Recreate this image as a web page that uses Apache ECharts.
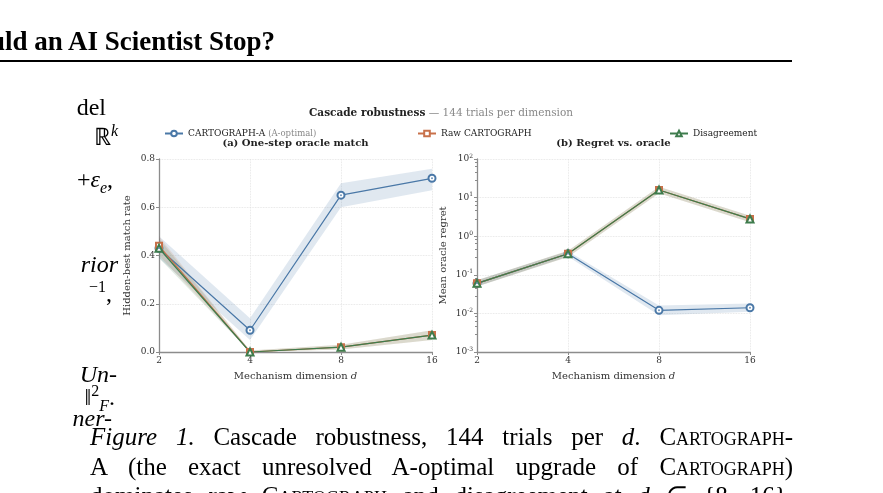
<!DOCTYPE html>
<html>
<head>
<meta charset="utf-8">
<script src="https://cdn.jsdelivr.net/npm/echarts@6/dist/echarts.min.js"></script>
<style>
  html, body { margin: 0; padding: 0; background: #fff; }
  body { width: 883px; height: 493px; position: relative; overflow: hidden; }
  #main { position: absolute; left: 0; top: 0; width: 883px; height: 493px; }
  .paper { position: absolute; font-family: "Liberation Serif", "Times New Roman", serif; color: #000; white-space: nowrap; line-height: 24px; }
  .sc { font-variant: small-caps; }
  .head { font-size: 27px; font-weight: bold; }
  .rule { position: absolute; left: 0; top: 60px; width: 792px; height: 2px; background: #000; }
  .side { font-size: 24px; text-align: right; }
  .cap { font-size: 25px; left: 90px; width: 703px; text-align: justify; text-align-last: justify; }
  sup, sub { font-size: 16px; line-height: 0; }
</style>
</head>
<body>
<div id="main"></div>

<div class="paper head" style="right: 608px; top: 29px;">When Should an AI Scientist Stop?</div>
<div class="rule"></div>

<div class="paper side" style="right: 777px; top: 95px;">del</div>
<div class="paper side" style="right: 765px; top: 125px;">&#x211D;<sup><i>k</i></sup></div>
<div class="paper side" style="right: 770px; top: 167px;">+<i>&epsilon;</i><sub><i>e</i></sub>,</div>
<div class="paper side" style="right: 765px; top: 252px;"><i>rior</i></div>
<div class="paper side" style="right: 771px; top: 281px;"><sup>&minus;1</sup>,</div>
<div class="paper side" style="right: 766px; top: 362px;"><i>Un-</i></div>
<div class="paper side" style="right: 768px; top: 385px;">&#x2016;<sup>2</sup><sub><i>F</i></sub>.</div>
<div class="paper side" style="right: 771px; top: 406px;"><i>ner-</i></div>

<div class="paper cap" style="top: 425px;"><i>Figure 1.</i> Cascade robustness, 144 trials per <i>d</i>. <span class="sc">Cartograph</span>-</div>
<div class="paper cap" style="top: 455px;">A (the exact unresolved A-optimal upgrade of <span class="sc">Cartograph</span>)</div>
<div class="paper cap" style="top: 484px;">dominates raw <span class="sc">Cartograph</span> and disagreement at <i>d</i> &isin; {8, 16}.</div>

<script>
  // Categories
  var dims = ['2', '4', '8', '16'];
  var methodNames = ['CARTOGRAPH-A', 'Raw CARTOGRAPH', 'Disagreement'];

  // (a) one-step oracle match
  var matchA = [0.43, 0.09, 0.65, 0.72];
  var matchALo = [0.39, 0.05, 0.60, 0.67];
  var matchAHi = [0.48, 0.14, 0.70, 0.76];
  var matchRaw = [0.44, 0.0, 0.02, 0.07];
  var matchRawLo = [0.40, 0.0, 0.01, 0.05];
  var matchRawHi = [0.48, 0.006, 0.03, 0.09];
  var matchDis = [0.43, 0.0, 0.02, 0.07];
  var matchDisLo = [0.39, 0.0, 0.01, 0.05];
  var matchDisHi = [0.47, 0.006, 0.03, 0.09];

  // (b) regret vs. oracle
  var regretA = [0.06, 0.35, 0.012, 0.014];
  var regretALo = [0.05, 0.30, 0.009, 0.011];
  var regretAHi = [0.072, 0.41, 0.016, 0.018];
  var regretRaw = [0.06, 0.35, 15.7, 2.8];
  var regretRawLo = [0.05, 0.29, 13.0, 2.3];
  var regretRawHi = [0.072, 0.42, 19.0, 3.4];
  var regretDis = [0.06, 0.35, 15.7, 2.8];
  var regretDisLo = [0.05, 0.29, 13.0, 2.3];
  var regretDisHi = [0.072, 0.42, 19.0, 3.4];

  var matchTicks = [0, 0.2, 0.4, 0.6, 0.8];

  var FONT = 'DejaVu Serif';
  var BLUE = '#4a78a7';
  var ORANGE = '#c8714a';
  var GREEN = '#3e7c4d';
  var AXIS = '#8c8c8c';

  var myChart = echarts.init(document.getElementById('main'));

  /**
   * @name band
   * @desc shaded range between lo and hi drawn as one polygon
   */
  function band(name, idx, lo, hi, color) {
    return {
      type: 'custom',
      name: name,
      xAxisIndex: idx,
      yAxisIndex: idx,
      silent: true,
      z: 1,
      data: lo.map(function (v, i) { return [i, v, hi[i]]; }),
      encode: { x: 0, y: [1, 2] },
      renderItem: function (params, api) {
        if (params.dataIndex !== 0) return;
        var pts = [], i;
        for (i = 0; i < hi.length; i++) pts.push(api.coord([i, hi[i]]));
        for (i = lo.length - 1; i >= 0; i--) pts.push(api.coord([i, lo[i]]));
        return { type: 'polygon', shape: { points: pts }, style: { fill: color } };
      }
    };
  }

  function line(name, idx, data, symbol, size, color) {
    return {
      type: 'line',
      name: name,
      xAxisIndex: idx,
      yAxisIndex: idx,
      data: data,
      symbol: symbol,
      symbolSize: size,
      z: 3,
      lineStyle: { width: 1.2, color: color },
      itemStyle: { color: color, borderColor: color, borderWidth: 1 }
    };
  }

  function dot(idx, data, color) {
    return {
      type: 'scatter',
      name: 'dot',
      xAxisIndex: idx,
      yAxisIndex: idx,
      data: data,
      symbolSize: 2,
      silent: true,
      z: 4,
      itemStyle: { color: color }
    };
  }

  function xAxis(idx) {
    return {
      type: 'category',
      gridIndex: idx,
      data: dims,
      boundaryGap: false,
      axisLine: { lineStyle: { color: AXIS, width: 1.3 } },
      axisTick: { show: true, length: 3, lineStyle: { color: AXIS } },
      axisLabel: { margin: 4, fontFamily: FONT, fontSize: 9, color: '#333' },
      splitLine: { show: true, lineStyle: { type: 'dotted', color: '#e0e0e0', width: 0.8 } },
      name: 'Mechanism dimension {i|d}',
      nameLocation: 'middle',
      nameGap: 19,
      nameTextStyle: {
        fontFamily: FONT, fontSize: 10, color: '#333',
        rich: { i: { fontFamily: FONT, fontSize: 10, color: '#333', fontStyle: 'italic' } }
      }
    };
  }

  var yCommon = {
    axisLine: { show: true, lineStyle: { color: AXIS, width: 1.3 } },
    axisTick: { show: true, length: 3, lineStyle: { color: AXIS } },
    splitLine: { show: true, lineStyle: { type: 'dotted', color: '#e0e0e0', width: 0.8 } },
    nameLocation: 'middle',
    nameTextStyle: { fontFamily: FONT, fontSize: 10, color: '#333' }
  };

  var legendText = {
    fontFamily: FONT, fontSize: 9, color: '#222',
    rich: {
      n: { fontFamily: FONT, fontSize: 9, color: '#222' },
      g: { fontFamily: FONT, fontSize: 8.5, color: '#888' }
    }
  };

  function legend(name, left, fmt) {
    return {
      data: [name],
      left: left,
      top: 124,
      itemWidth: 18,
      itemHeight: 7,
      itemGap: 0,
      formatter: fmt,
      textStyle: legendText
    };
  }

  var option = {
    animation: false,
    backgroundColor: 'transparent',
    grid: [
      { left: 159, top: 159, width: 273, height: 193 },
      { left: 477, top: 159, width: 273, height: 193 }
    ],
    legend: [
      legend(methodNames[0], 159, function () { return '{n|CARTOGRAPH-A} {g|(A-optimal)}'; }),
      legend(methodNames[1], 412, '{name}'),
      legend(methodNames[2], 664, '{name}')
    ],
    graphic: [
      {
        type: 'text', x: 441, y: 113,
        style: {
          text: '{b|Cascade robustness} {g|— 144 trials per dimension}',
          align: 'center', verticalAlign: 'middle',
          rich: {
            b: { fontFamily: FONT, fontSize: 10.5, fontWeight: 'bold', fill: '#222' },
            g: { fontFamily: FONT, fontSize: 10.5, fill: '#888' }
          }
        }
      },
      {
        type: 'text', x: 295.5, y: 143,
        style: { text: '(a) One-step oracle match', align: 'center', verticalAlign: 'middle',
          font: 'bold 10px "DejaVu Serif"', fill: '#222' }
      },
      {
        type: 'text', x: 613.5, y: 143,
        style: { text: '(b) Regret vs. oracle', align: 'center', verticalAlign: 'middle',
          font: 'bold 10px "DejaVu Serif"', fill: '#222' }
      }
    ],
    xAxis: [xAxis(0), xAxis(1)],
    yAxis: [
      Object.assign({}, yCommon, {
        type: 'value',
        gridIndex: 0,
        min: matchTicks[0],
        max: matchTicks[matchTicks.length - 1],
        interval: 0.2,
        name: 'Hidden-best match rate',
        nameGap: 27,
        axisLabel: { margin: 4, fontFamily: FONT, fontSize: 9, color: '#333',
          formatter: function (v) { return v.toFixed(1); } }
      }),
      Object.assign({}, yCommon, {
        type: 'log',
        logBase: 10,
        gridIndex: 1,
        min: 0.001,
        max: 100,
        name: 'Mean oracle regret',
        nameGap: 29,
        minorTick: { show: true, splitNumber: 5, length: 2, lineStyle: { color: AXIS } },
        axisLabel: {
          margin: 4, color: '#333',
          formatter: function (v) {
            return '{b|10}{s|' + Math.round(Math.log10(v)) + '}';
          },
          rich: {
            b: { fontFamily: FONT, fontSize: 9, color: '#333', lineHeight: 12 },
            s: { fontFamily: FONT, fontSize: 6, color: '#333', verticalAlign: 'top' }
          }
        }
      })
    ],
    series: [
      band('bandA0', 0, matchALo, matchAHi, 'rgba(74,120,167,0.17)'),
      band('bandR0', 0, matchRawLo, matchRawHi, 'rgba(200,113,74,0.15)'),
      band('bandD0', 0, matchDisLo, matchDisHi, 'rgba(62,124,77,0.15)'),
      band('bandA1', 1, regretALo, regretAHi, 'rgba(74,120,167,0.17)'),
      band('bandR1', 1, regretRawLo, regretRawHi, 'rgba(200,113,74,0.15)'),
      band('bandD1', 1, regretDisLo, regretDisHi, 'rgba(62,124,77,0.15)'),

      line(methodNames[0], 0, matchA, 'emptyCircle', 7, BLUE),
      line(methodNames[1], 0, matchRaw, 'emptyRect', 6, ORANGE),
      line(methodNames[2], 0, matchDis, 'emptyTriangle', 7, GREEN),
      line(methodNames[0], 1, regretA, 'emptyCircle', 7, BLUE),
      line(methodNames[1], 1, regretRaw, 'emptyRect', 6, ORANGE),
      line(methodNames[2], 1, regretDis, 'emptyTriangle', 7, GREEN),

      dot(0, matchA, BLUE),
      dot(1, regretA, BLUE)
    ]
  };

  myChart.setOption(option);
</script>
</body>
</html>
